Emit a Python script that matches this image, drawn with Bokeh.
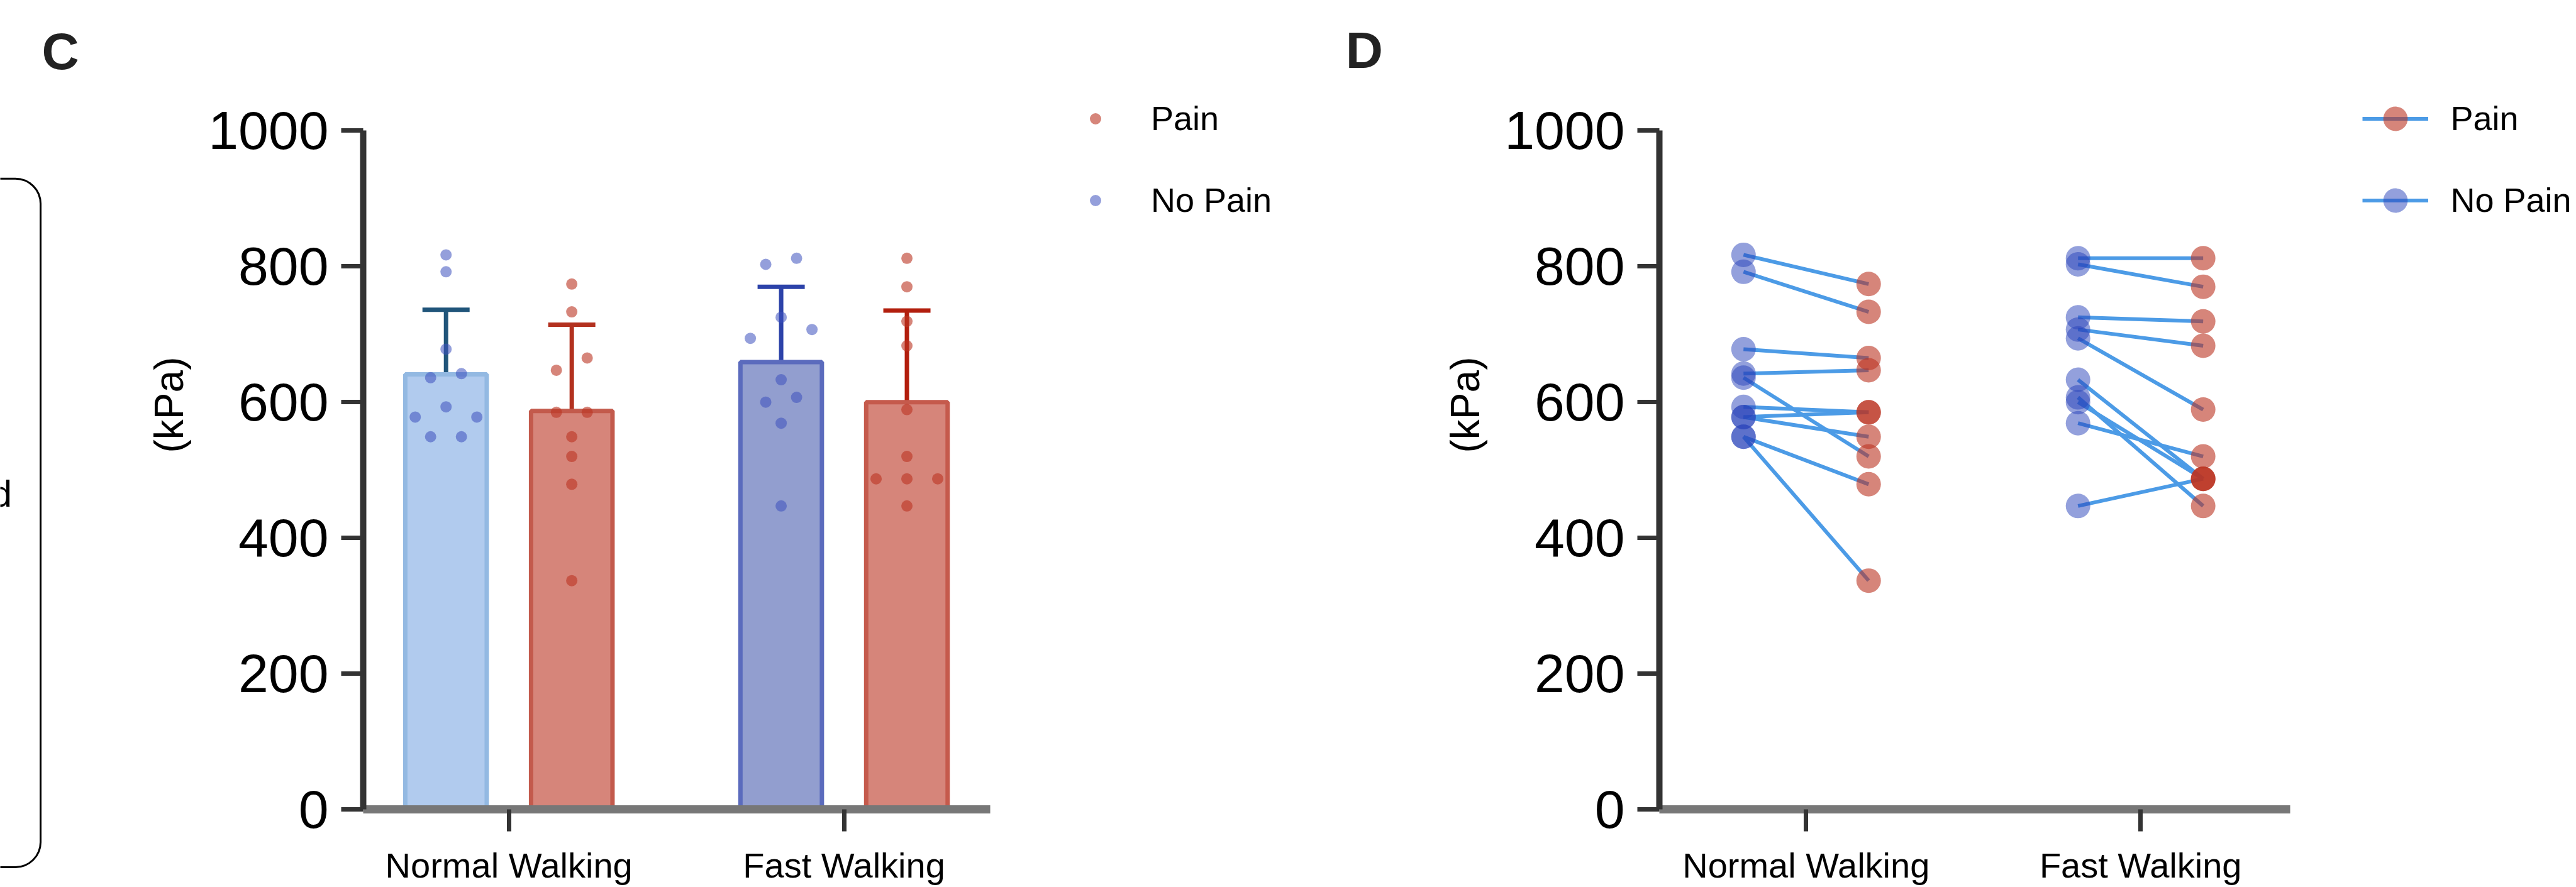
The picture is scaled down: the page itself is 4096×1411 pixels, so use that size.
from bokeh.plotting import figure
from bokeh.models import (Range1d, FixedTicker, Whisker, TeeHead, ColumnDataSource,
                          Legend, LegendItem)
from bokeh.layouts import row
from bokeh.embed import file_html
from bokeh.resources import INLINE
from bokeh.core.properties import value

# ---------------- data ----------------
categories = ["Normal Walking", "Fast Walking"]
groups = ["No Pain", "Pain"]
y_ticks = [0, 200, 400, 600, 800, 1000]

# paired per subject (No Pain -> Pain)
np_normal   = [817, 792, 678, 642, 636, 593, 578, 578, 549, 549]
pain_normal = [774, 733, 665, 647, 520, 585, 585, 549, 479, 337]
np_fast     = [812, 803, 725, 707, 694, 633, 607, 600, 569, 447]
pain_fast   = [812, 770, 719, 683, 589, 487, 447, 487, 520, 487]

# bar means and SD (NP normal, Pain normal, NP fast, Pain fast)
bar_mean = [641, 587, 659, 600]
bar_sd   = [95, 127, 111, 135]

# ---------------- layout constants (canvas px) ----------------
S = 0.985
def c(v):
    return v * S              # reference px -> canvas px

W, H = 4093, 1410
BOX_W = 150
SPLIT = 2255
FONT = "Liberation Sans"
MBB = 122
FRAME_BOTTOM = H - MBB
YPX = 1.097 * S
Y_END = FRAME_BOTTOM / YPX

# ---------------- colours / styles ----------------
bar_fill = ["#b1cbee", "#d6857a", "#929ecf", "#d6857a"]
bar_line = ["#93b9e2", "#c35a4c", "#5b6bbd", "#c55a4c"]
err_col  = ["#20557a", "#b3311f", "#2c42a9", "#b21e0d"]
BLUE_PT, RED_PT = "#3c50be", "#ba3321"
LINE_D = "#4c9be6"


def style_axes(p, x_bound_end):
    p.xgrid.grid_line_color = None
    p.ygrid.grid_line_color = None
    p.outline_line_color = None
    p.background_fill_color = "white"
    p.border_fill_color = "white"
    # y axis
    p.yaxis.ticker = FixedTicker(ticks=y_ticks, minor_ticks=[])
    p.yaxis.bounds = (0, 1000)
    p.yaxis.axis_line_width = 10
    p.yaxis.axis_line_color = "#333333"
    p.yaxis.major_tick_line_width = 7
    p.yaxis.major_tick_line_color = "#333333"
    p.yaxis.major_tick_out = 35
    p.yaxis.major_tick_in = 0
    p.yaxis.minor_tick_line_color = None
    p.yaxis.major_label_text_font = FONT
    p.yaxis.major_label_text_font_size = "86px"
    p.yaxis.major_label_text_color = "#000000"
    p.yaxis.major_label_standoff = 20
    p.yaxis.axis_label = "(kPa)"
    p.yaxis.axis_label_text_font = FONT
    p.yaxis.axis_label_text_font_size = "64px"
    p.yaxis.axis_label_text_font_style = "normal"
    p.yaxis.axis_label_text_color = "#000000"
    p.yaxis.axis_label_standoff = 23
    # x axis
    p.xaxis.ticker = FixedTicker(ticks=[0, 1], minor_ticks=[])
    p.xaxis.major_label_overrides = {0: categories[0], 1: categories[1]}
    p.xaxis.bounds = (p.x_range.start, x_bound_end)
    p.xaxis.axis_line_width = 13
    p.xaxis.axis_line_color = "#777777"
    p.xaxis.major_tick_line_width = 7
    p.xaxis.major_tick_line_color = "#333333"
    p.xaxis.major_tick_out = 35
    p.xaxis.major_tick_in = 0
    p.xaxis.minor_tick_line_color = None
    p.xaxis.major_label_text_font = FONT
    p.xaxis.major_label_text_font_size = "56px"
    p.xaxis.major_label_text_color = "#000000"
    p.xaxis.major_label_standoff = 22


def swarm_offsets(vals, thresh, gap):
    order = sorted(range(len(vals)), key=lambda i: -vals[i])
    grps, cur = [], [order[0]]
    for i in order[1:]:
        if vals[cur[-1]] - vals[i] < thresh:
            cur.append(i)
        else:
            grps.append(cur)
            cur = [i]
    grps.append(cur)
    off = [0.0] * len(vals)
    for g in grps:
        g = sorted(g, key=lambda i: vals[i])
        n = len(g)
        slots = [-1, 1, 0] if n == 3 else [k - (n - 1) / 2 for k in range(n)]
        for i, s in zip(g, slots):
            off[i] = s * gap
    return off


# ---------------- left strip: partial rounded box, "d", panel letter C ----------------
bf = figure(width=BOX_W, height=H, x_range=Range1d(0, BOX_W), y_range=Range1d(H, 0),
            toolbar_location=None, output_backend="svg",
            x_axis_location=None, y_axis_location=None,
            min_border_left=0, min_border_right=0, min_border_top=0, min_border_bottom=0)
bf.frame_align = False
bf.grid.grid_line_color = None
bf.outline_line_color = None
bf.quad(left=[-120], right=[c(65)], top=[c(288)], bottom=[c(1400)], border_radius=40,
        fill_color=None, line_color="black", line_width=3)
bf.text(x=[c(19)], y=[c(797)], text=["d"], text_font=value(FONT), text_font_size="60px",
        text_align="right", text_baseline="middle", text_color="black")
bf.text(x=[c(97)], y=[c(82)], text=["C"], text_font=value(FONT), text_font_size="82px",
        text_font_style="bold", text_align="center", text_baseline="middle", text_color="#222222")

# ---------------- panel C ----------------
cC = [c(821), c(1362)]
uC = cC[1] - cC[0]
flC = round(c(586))
xsC = (flC - cC[0]) / uC
xeC = (SPLIT - cC[0]) / uC
pC = figure(width=SPLIT - BOX_W, height=H, x_range=Range1d(xsC, xeC), y_range=Range1d(0, Y_END),
            toolbar_location=None, output_backend="svg",
            min_border_left=flC - BOX_W, min_border_right=0, min_border_top=0,
            min_border_bottom=MBB)
style_axes(pC, (c(1598) - cC[0]) / uC)

offC = 101.5 * S / uC
bw = 129.5 / uC
bar_x = [0 - offC, 0 + offC, 1 - offC, 1 + offC]
pC.vbar(x=bar_x, top=bar_mean, bottom=0, width=bw, fill_color=bar_fill,
        line_color=bar_line, line_width=7)

for k in range(4):
    src = ColumnDataSource(dict(x=[bar_x[k]], up=[bar_mean[k] + bar_sd[k]],
                                lo=[bar_mean[k] - bar_sd[k]]))
    w = Whisker(base="x", upper="up", lower="lo", source=src, line_color=err_col[k],
                line_width=7,
                upper_head=TeeHead(size=75, line_width=7, line_color=err_col[k]),
                lower_head=TeeHead(size=75, line_width=7, line_color=err_col[k]))
    pC.add_layout(w)

gap = 49 / uC
np_x, np_y, pa_x, pa_y = [], [], [], []
for k, (npv, pav) in enumerate([(np_normal, pain_normal), (np_fast, pain_fast)]):
    for v, o in zip(npv, swarm_offsets(npv, 20, gap)):
        np_x.append(k - offC + o); np_y.append(v)
    for v, o in zip(pav, swarm_offsets(pav, 20, gap)):
        pa_x.append(k + offC + o); pa_y.append(v)
r_np = pC.scatter(np_x, np_y, size=18, fill_color=BLUE_PT, fill_alpha=0.55, line_color=None,
                  level="overlay")
r_pa = pC.scatter(pa_x, pa_y, size=18, fill_color=RED_PT, fill_alpha=0.6, line_color=None,
                  level="overlay")

# panel letter D (sits in the empty part of C's frame)
pC.text(x=[(c(2202) - cC[0]) / uC], y=[(FRAME_BOTTOM - c(80)) / YPX], text=["D"],
        text_font=value(FONT), text_font_size="82px", text_font_style="bold",
        text_align="center", text_baseline="middle", text_color="#222222")

itemC = 66
legC = Legend(items=[LegendItem(label=groups[1], renderers=[r_pa]),
                     LegendItem(label=groups[0], renderers=[r_np])],
              location=(c(1768) - 22.5 - flC, FRAME_BOTTOM - (c(324) + itemC / 2)),
              orientation="vertical", glyph_width=45, glyph_height=45, label_height=itemC,
              label_standoff=66, spacing=round(130 - itemC), padding=0, margin=0,
              border_line_color=None, background_fill_alpha=0,
              label_text_font=FONT, label_text_font_size="54px", label_text_color="#000000")
pC.add_layout(legC)

# ---------------- panel D ----------------
cD = [c(2915), c(3455)]
uD = cD[1] - cD[0]
flD = round(c(2678))
xsD = (flD - cD[0]) / uD
xeD = (W - cD[0]) / uD
pD = figure(width=W - SPLIT, height=H, x_range=Range1d(xsD, xeD), y_range=Range1d(0, Y_END),
            toolbar_location=None, output_backend="svg",
            min_border_left=flD - SPLIT, min_border_right=0, min_border_top=0,
            min_border_bottom=MBB)
style_axes(pD, (c(3696) - cD[0]) / uD)

offD = 101 * S / uD
x0, y0, x1, y1 = [], [], [], []
for k, (npv, pav) in enumerate([(np_normal, pain_normal), (np_fast, pain_fast)]):
    for a, b in zip(npv, pav):
        x0.append(k - offD); y0.append(a); x1.append(k + offD); y1.append(b)
r_ln = pD.segment(x0=x0, y0=y0, x1=x1, y1=y1, line_color=LINE_D, line_width=6)
r_bn = pD.scatter(x0, y0, size=39, fill_color="#2841b9", fill_alpha=0.5, line_color=None)
r_rd = pD.scatter(x1, y1, size=39, fill_color=RED_PT, fill_alpha=0.6, line_color=None)

itemD = 97
legD = Legend(items=[LegendItem(label=groups[1], renderers=[r_ln, r_rd]),
                     LegendItem(label=groups[0], renderers=[r_ln, r_bn])],
              location=(c(3866) - 52.5 - flD, FRAME_BOTTOM - (c(324) + itemD / 2)),
              orientation="vertical", glyph_width=105, glyph_height=itemD, label_height=itemD,
              label_standoff=36, spacing=round(130 - itemD), padding=0, margin=0,
              border_line_color=None, background_fill_alpha=0,
              label_text_font=FONT, label_text_font_size="54px", label_text_color="#000000")
pD.add_layout(legD)

layout = row(bf, pC, pD)
open("out.html", "w").write(file_html(layout, INLINE))
